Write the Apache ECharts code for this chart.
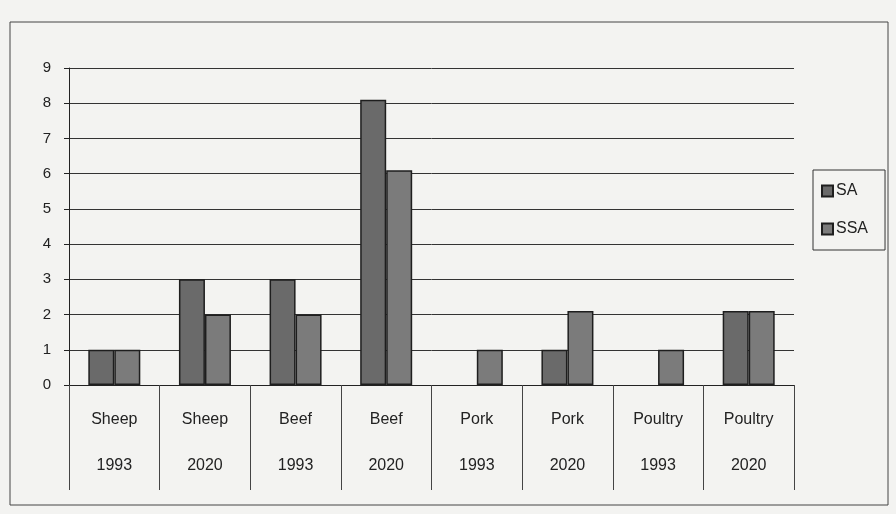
<!DOCTYPE html>
<html>
<head>
<meta charset="utf-8">
<script src="https://cdn.jsdelivr.net/npm/echarts@6/dist/echarts.min.js"></script>
<style>
  html, body { margin: 0; padding: 0; background: #f3f3f1; }
  #chart { width: 896px; height: 514px; }
</style>
</head>
<body>
<div id="chart"></div>
<script>
// categories (product + year)
var products = ['Sheep', 'Sheep', 'Beef', 'Beef', 'Pork', 'Pork', 'Poultry', 'Poultry'];
var years = ['1993', '2020', '1993', '2020', '1993', '2020', '1993', '2020'];
// series values (null = no bar drawn)
var saValues = [1, 3, 3, 8.1, null, 1, null, 2.1];
var ssaValues = [1, 2, 2, 6.1, 1, 2.1, 1, 2.1];
var yTicks = [0, 1, 2, 3, 4, 5, 6, 7, 8, 9];

var categories = products.map(function (p, i) { return p + '\n' + years[i]; });

var chart = echarts.init(document.getElementById('chart'));
chart.setOption({
  backgroundColor: '#f3f3f1',
  animation: false,
  textStyle: { fontFamily: 'Liberation Sans, Arial, sans-serif' },
  graphic: [{
    type: 'rect',
    shape: { x: 10, y: 22, width: 878, height: 483 },
    style: { fill: 'none', stroke: '#444', lineWidth: 1 },
    silent: true
  }],
  legend: {
    orient: 'vertical',
    left: 813,
    top: 170,
    padding: [13, 17, 13, 8],
    itemGap: 22,
    itemWidth: 11,
    itemHeight: 11,
    icon: 'rect',
    borderColor: '#333',
    borderWidth: 1,
    textStyle: { fontSize: 16, color: '#222', padding: [0, 0, 0, -2] },
    data: ['SA', 'SSA']
  },
  grid: { left: 69, right: 102, top: 68, bottom: 129 },
  xAxis: {
    type: 'category',
    data: categories,
    axisLine: { lineStyle: { color: '#222', width: 1 } },
    axisTick: { show: true, length: 105, lineStyle: { color: '#444' } },
    axisLabel: {
      color: '#222',
      fontSize: 16,
      lineHeight: 46,
      margin: 12,
      interval: 0
    }
  },
  yAxis: {
    type: 'value',
    min: yTicks[0],
    max: yTicks[yTicks.length - 1],
    interval: 1,
    axisLine: { show: true, lineStyle: { color: '#222', width: 1 } },
    axisTick: { show: true, length: 5, lineStyle: { color: '#222' } },
    axisLabel: { color: '#222', fontSize: 15, margin: 18 },
    splitLine: { lineStyle: { color: '#333', width: 1 } }
  },
  series: [
    {
      name: 'SA',
      type: 'bar',
      data: saValues,
      barWidth: 26,
      barGap: '0%',
      itemStyle: { color: '#6a6a6a', borderColor: '#1e1e1e', borderWidth: 1.5 }
    },
    {
      name: 'SSA',
      type: 'bar',
      data: ssaValues,
      barWidth: 26,
      barGap: '0%',
      itemStyle: { color: '#7b7b7b', borderColor: '#1e1e1e', borderWidth: 1.5 }
    }
  ]
});
</script>
</body>
</html>
